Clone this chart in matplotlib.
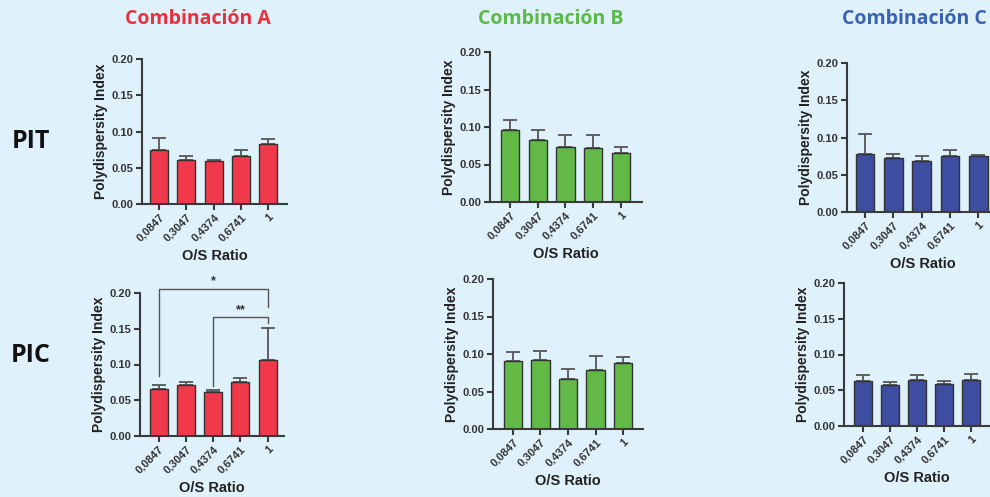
import numpy as np
import matplotlib.pyplot as plt

plt.rcParams['font.family'] = ['Liberation Sans', 'DejaVu Sans']

ratios = ['0,0847', '0,3047', '0,4374', '0,6741', '1']

# mean PDI and upper SD for each combination / method
a_pit = [0.0747, 0.0608, 0.0590, 0.0659, 0.0834]
a_pit_sd = [0.0170, 0.0060, 0.0018, 0.0088, 0.0060]
a_pic = [0.0653, 0.0709, 0.0615, 0.0760, 0.1058]
a_pic_sd = [0.0060, 0.0042, 0.0033, 0.0056, 0.0448]

b_pit = [0.0955, 0.0821, 0.0728, 0.0714, 0.0660]
b_pit_sd = [0.0145, 0.0143, 0.0169, 0.0179, 0.0077]
b_pic = [0.0911, 0.0924, 0.0670, 0.0790, 0.0875]
b_pic_sd = [0.0111, 0.0116, 0.0129, 0.0179, 0.0085]

c_pit = [0.0772, 0.0719, 0.0679, 0.0746, 0.0746]
c_pit_sd = [0.0277, 0.0058, 0.0075, 0.0089, 0.0013]
c_pic = [0.0636, 0.0580, 0.0650, 0.0593, 0.0650]
c_pic_sd = [0.0074, 0.0041, 0.0070, 0.0043, 0.0074]

titles = ['Combinación A', 'Combinación B', 'Combinación C']
title_colors = ['#e8313f', '#5cb947', '#3a62b2']
bar_colors = ['#f03a4b', '#62b946', '#3d4d9f']
rows = ['PIT', 'PIC']

W, H = 990, 497
bg = '#dff1fa'
fig = plt.figure(figsize=(W / 100, H / 100), dpi=100, facecolor=bg)


def px_axes(left, right, top, bottom):
    return fig.add_axes([left / W, 1 - bottom / H, (right - left) / W, (bottom - top) / H])


def draw_panel(ax, vals, sd, color, span):
    x = np.arange(len(vals))
    ax.set_facecolor(bg)
    ax.bar(x, vals, width=0.66, color=color, edgecolor='#333333', linewidth=1.0, zorder=2)
    ax.errorbar(x, vals, yerr=[np.zeros(len(sd)), sd], fmt='none', ecolor='#555555',
                elinewidth=1.3, capsize=5, capthick=1.3, zorder=1)
    ax.set_xlim(*span)
    ax.set_ylim(0, 0.20)
    ax.set_yticks([0, 0.05, 0.10, 0.15, 0.20])
    ax.set_yticklabels(['0.00', '0.05', '0.10', '0.15', '0.20'])
    ax.set_xticks(x)
    ax.set_xticklabels(ratios, rotation=45, ha='right', rotation_mode='anchor')
    for s in ['top', 'right']:
        ax.spines[s].set_visible(False)
    for s in ['left', 'bottom']:
        ax.spines[s].set_color('#3a3a3a')
        ax.spines[s].set_linewidth(1.5)
    ax.tick_params(axis='both', colors='#3a3a3a', width=1.5, length=4, pad=2,
                   labelsize=8, labelcolor='#333333')
    for lab in ax.get_xticklabels() + ax.get_yticklabels():
        lab.set_fontweight('bold')
    ax.set_ylabel('Polydispersity Index', fontsize=10, fontweight='bold', color='#222222', labelpad=3)
    ax.set_xlabel('O/S Ratio', fontsize=10.5, fontweight='bold', color='#222222', labelpad=4)


panels = [
    (a_pit, a_pit_sd, (142, 287, 59, 204), (-0.63, 4.70), 0),
    (a_pic, a_pic_sd, (140, 284, 293, 436), (-0.68, 4.60), 0),
    (b_pit, b_pit_sd, (490, 642, 52, 202), (-0.72, 4.76), 1),
    (b_pic, b_pic_sd, (493, 643, 279, 429), (-0.72, 4.72), 1),
    (c_pit, c_pit_sd, (847, 998, 63, 212), (-0.64, 4.70), 2),
    (c_pic, c_pic_sd, (844, 990, 283, 426), (-0.70, 4.70), 2),
]

axes = []
for vals, sd, box, span, k in panels:
    ax = px_axes(*box)
    draw_panel(ax, vals, sd, bar_colors[k], span)
    axes.append(ax)

# significance brackets on Combinación A / PIC
ax = axes[1]
br = dict(color='#555555', lw=1.0, clip_on=False)
ax.plot([0, 0, 4, 4], [0.084, 0.206, 0.206, 0.180], **br)
ax.text(2, 0.208, '*', ha='center', va='bottom', fontsize=9, fontweight='bold', color='#333333')
ax.plot([2, 2, 4, 4], [0.070, 0.166, 0.166, 0.158], **br)
ax.text(3, 0.168, '**', ha='center', va='bottom', fontsize=9, fontweight='bold', color='#333333')

title_x = [198, 551, 914]
for t, c, xp in zip(titles, title_colors, title_x):
    fig.text(xp / W, 1 - 19 / H, t, ha='center', va='center', fontsize=14, fontweight='bold',
             color=c, family=['Open Sans', 'Liberation Sans'])

for r, yp in zip(rows, [141, 355]):
    fig.text(31 / W, 1 - yp / H, r, ha='center', va='center', fontsize=18, fontweight='bold',
             color='#111111', family=['Open Sans', 'Liberation Sans'])

fig.savefig('out.png', dpi=100, facecolor=bg)
